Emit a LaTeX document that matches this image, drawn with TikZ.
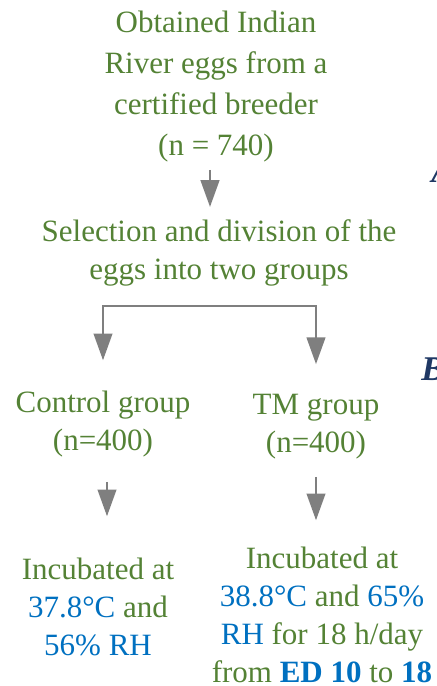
\documentclass[tikz,border=0pt]{standalone}
\usepackage{fontspec}
\setmainfont{Liberation Serif}
\usetikzlibrary{arrows.meta}
\definecolor{mygreen}{HTML}{548235}
\definecolor{myblue}{HTML}{0070C0}
\definecolor{mynavy}{HTML}{1F3864}
\definecolor{mygray}{HTML}{7F7F7F}
\newcommand{\bluetext}[1]{\textcolor{myblue}{#1}}
\tikzset{
	stepnode/.style={
			text=mygreen,
			align=center,
			inner sep=0pt,
			anchor=base,
			font=\fontsize{23.25}{28.5}\selectfont
		},
	titlenode/.style={
			stepnode,
			font=\fontsize{23.25}{30.75}\selectfont
		},
	flowarrow/.style={
			draw=mygray,
			line width=1.5pt,
			-{Triangle[length=20pt,width=14pt]}
		},
	panelletter/.style={
			text=mynavy,
			inner sep=0pt,
			anchor=base west,
			font=\fontsize{26}{30}\selectfont\bfseries\itshape
		}
}

\begin{document}
\begin{tikzpicture}[x=0.75pt,y=-0.75pt]
\useasboundingbox (0,0) rectangle (436,686);
\clip (0,0) rectangle (436,686);

% base anchor sits on the last line
\node[titlenode] (origin) at (216,155) {Obtained Indian\\River eggs from a\\certified breeder\\(n = 740)};
\node[stepnode] (select) at (219,279) {Selection and division of the\\eggs into two groups};
\node[stepnode] (ctrl) at (103,450) {Control group\\(n=400)};
\node[stepnode] (tm) at (316,452) {TM group\\(n=400)};
\node[stepnode] (ctrlinc) at (98,655) {Incubated at\\\bluetext{37.8°C} and\\\bluetext{56\% RH}};
\node[stepnode] (tminc) at (322,682) {Incubated at\\\bluetext{38.8°C} and \bluetext{65\%}\\\bluetext{RH} for 18 h/day\\from \bluetext{\textbf{ED 10}} to \bluetext{\textbf{18}}};

\node[panelletter] (letA) at (431,182) {A};
\node[panelletter] (letB) at (421,380) {B};

\coordinate (split) at (219,306);

\draw[flowarrow, shorten <=6pt, shorten >=9pt] ([xshift=-4.5pt]origin.south) -- ([xshift=-4.5pt]origin.south |- select.north);
\draw[flowarrow, shorten >=22.5pt] (split) -| (ctrl);
\draw[flowarrow, shorten >=22pt] (split) -| (tm);
\draw[flowarrow, shorten <=18.75pt, shorten >=30.75pt] ([xshift=3pt]ctrl.south) -- ([xshift=3pt]ctrl.south |- ctrlinc.north);
\draw[flowarrow, shorten <=13.5pt, shorten >=19.5pt] (tm.south) -- (tm.south |- tminc.north);

\end{tikzpicture}
\end{document}
